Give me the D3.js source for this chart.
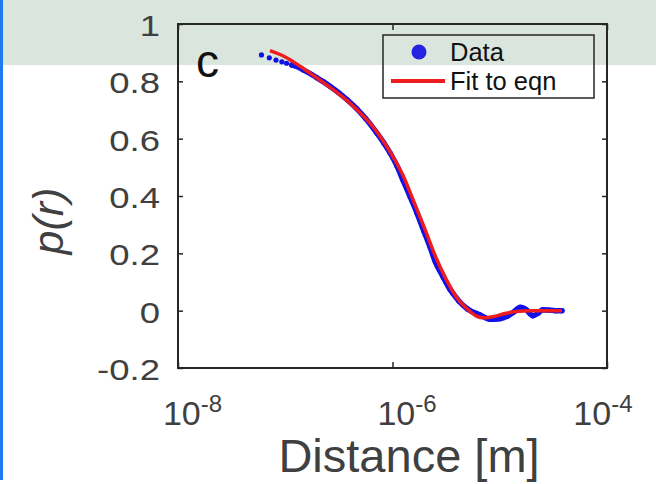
<!DOCTYPE html>
<html>
<head>
<meta charset="utf-8">
<script src="https://cdn.jsdelivr.net/npm/d3@7"></script>
<style>
body{margin:0;background:#fff;overflow:hidden;}
svg text{font-family:"Liberation Sans",Arial,Helvetica,sans-serif;}
</style>
</head>
<body>
<div id="plot"></div>
<script>

/* ######## data ######## */

// measured correlation p(r) vs distance r [m]
var data_r = [6.0e-8, 7.1e-8, 8.2e-8, 9.3e-8, 1.03e-7, 1.15e-7, 1.26e-7, 1.47e-7, 1.78e-7, 1.96e-7,
              2.24e-7, 2.61e-7, 3.16e-7, 3.8e-7, 4.63e-7, 5.62e-7, 7.13e-7, 8.3e-7, 9.5e-7, 1.1e-6,
              1.25e-6, 1.45e-6, 1.69e-6, 1.95e-6, 2.24e-6, 2.51e-6, 2.96e-6, 3.44e-6, 3.66e-6, 4.17e-6,
              5.0e-6, 6.55e-6, 8.1e-6, 1.0e-5, 1.17e-5, 1.35e-5, 1.55e-5, 1.74e-5, 2.04e-5, 2.29e-5,
              2.51e-5, 2.82e-5, 3.31e-5, 3.8e-5];
var data_p = [0.892, 0.882, 0.874, 0.868, 0.863, 0.857, 0.853, 0.84, 0.823, 0.813,
              0.80, 0.783, 0.76, 0.735, 0.705, 0.67, 0.62, 0.585, 0.55, 0.505,
              0.456, 0.40, 0.341, 0.28, 0.222, 0.17, 0.118, 0.074, 0.06, 0.033,
              0.006, -0.015, -0.03, -0.028, -0.02, -0.005, 0.012, 0.005, -0.018, -0.008,
              0.003, 0.002, 0, 0];

// fitted curve
var fit_r = [7.2e-8, 1.0e-7, 1.41e-7, 2.0e-7, 2.82e-7, 3.98e-7, 5.0e-7, 6.31e-7, 7.94e-7, 1.0e-6,
             1.26e-6, 1.58e-6, 2.0e-6, 2.51e-6, 3.16e-6, 3.98e-6, 5.0e-6, 6.0e-6, 7.1e-6, 8.9e-6,
             1.12e-5, 1.41e-5, 2.0e-5, 3.8e-5];
var fit_p = [0.907, 0.885, 0.85, 0.81, 0.77, 0.725, 0.69, 0.65, 0.60, 0.54,
             0.47, 0.38, 0.285, 0.19, 0.11, 0.045, 0.005, -0.018, -0.025, -0.02,
             -0.01, -0.003, 0, 0];

var x_ticks = [1e-8, 1e-6, 1e-4];
var x_tick_exp = ["-8", "-6", "-4"];
var y_ticks = [-0.2, 0, 0.2, 0.4, 0.6, 0.8, 1];
var y_tick_labels = ["-0.2", "0", "0.2", "0.4", "0.6", "0.8", "1"];
var legend_labels = ["Data", "Fit to eqn"];


/* ######## drawing ######## */

var W = 656, H = 484;
var box = {left: 178, right: 607, top: 24, bottom: 368};
var stretch = 1.26;   // y tick labels in the figure are wider than plain Arial

var svg = d3.select('#plot').append('svg').attr('width', W).attr('height', H);

// band + bar of the slide behind the figure
svg.append('rect').attr('x', 3).attr('y', 0).attr('width', W - 3).attr('height', 65).attr('fill', '#dae5dd');
svg.append('rect').attr('x', 0).attr('y', 0).attr('width', 3).attr('height', 480).attr('fill', '#1f7bef');

var x = d3.scaleLog().domain([1e-8, 1e-4]).range([box.left, box.right]);
var y = d3.scaleLinear().domain([-0.2, 1]).range([box.bottom, box.top]);

// left axis (ticks pointing in, like matlab)
var gy = svg.append('g').attr('transform', 'translate(' + box.left + ',0)')
    .call(d3.axisLeft(y).tickValues(y_ticks).tickSizeInner(-5).tickSizeOuter(0).tickPadding(18)
        .tickFormat(function(d, i){ return y_tick_labels[i]; }));
gy.select('.domain').remove();
gy.selectAll('.tick line').attr('stroke', '#262626').attr('stroke-width', 1.5);
gy.selectAll('.tick text')
    .attr('font-size', 29).attr('fill', '#404040').attr('font-family', null)
    .attr('x', -18 / stretch).attr('dy', '0.4em')
    .attr('transform', 'scale(' + stretch + ',1)');

// right axis, ticks only
var gy2 = svg.append('g').attr('transform', 'translate(' + box.right + ',0)')
    .call(d3.axisRight(y).tickValues(y_ticks).tickSizeInner(-5).tickSizeOuter(0).tickFormat(''));
gy2.select('.domain').remove();
gy2.selectAll('.tick line').attr('stroke', '#262626').attr('stroke-width', 1.5);

// bottom axis with 10^n labels
var gx = svg.append('g').attr('transform', 'translate(0,' + box.bottom + ')')
    .call(d3.axisBottom(x).tickValues(x_ticks).tickSizeInner(-6).tickSizeOuter(0).tickPadding(33)
        .tickFormat(function(){ return '10'; }));
gx.select('.domain').remove();
gx.selectAll('.tick line').attr('stroke', '#262626').attr('stroke-width', 1.5);
gx.selectAll('.tick text').each(function(d, i){
    var t = d3.select(this);
    t.attr('font-size', 34).attr('fill', '#404040').attr('font-family', null);
    t.append('tspan').attr('dy', '-0.55em').attr('font-size', 24).text(x_tick_exp[i]);
    // shift right of the tick, but keep the last one inside the picture
    var bb = this.getBBox();
    var dx = 14;
    var right = x(d) + bb.x + bb.width + dx;
    if (right > 632) dx -= right - 632;
    t.attr('x', dx);
});

var gx2 = svg.append('g').attr('transform', 'translate(0,' + box.top + ')')
    .call(d3.axisTop(x).tickValues(x_ticks).tickSizeInner(-6).tickSizeOuter(0).tickFormat(''));
gx2.select('.domain').remove();
gx2.selectAll('.tick line').attr('stroke', '#262626').attr('stroke-width', 1.5);

// box
svg.append('rect')
    .attr('x', box.left).attr('y', box.top)
    .attr('width', box.right - box.left).attr('height', box.bottom - box.top)
    .attr('fill', 'none').attr('stroke', '#262626').attr('stroke-width', 2);

// axis labels
svg.append('text').attr('x', 409).attr('y', 472).attr('text-anchor', 'middle')
    .attr('font-size', 47).attr('fill', '#404040').text('Distance [m]');
svg.append('text').attr('transform', 'translate(63,221) rotate(-90)').attr('text-anchor', 'middle')
    .attr('font-size', 43).attr('font-style', 'italic').attr('fill', '#404040').text('p(r)');

// panel letter
svg.append('text').attr('x', 196).attr('y', 77).attr('font-size', 46).attr('fill', '#111').text('c');

/* ######## curves ######## */

var pts = data_r.map(function(r, i){ return [r, data_p[i]]; });
var fit = fit_r.map(function(r, i){ return [r, fit_p[i]]; });

var line = d3.line()
    .x(function(d){ return x(d[0]); })
    .y(function(d){ return y(d[1]); })
    .curve(d3.curveMonotoneX);

// past ~1.2e-7 the data dots sit on top of each other -> thick band
svg.append('path').datum(pts.slice(5))
    .attr('d', line).attr('fill', 'none').attr('stroke', '#1010e8')
    .attr('stroke-width', 5.5).attr('stroke-linejoin', 'round').attr('stroke-linecap', 'round');

svg.append('g').selectAll('circle').data(pts).enter().append('circle')
    .attr('cx', function(d){ return x(d[0]); })
    .attr('cy', function(d){ return y(d[1]); })
    .attr('r', 2.6).attr('fill', '#1010e8');

svg.append('path').datum(fit)
    .attr('d', line).attr('fill', 'none').attr('stroke', '#ee1c1c')
    .attr('stroke-width', 3.5).attr('stroke-linejoin', 'round');

/* ######## legend ######## */

var leg = svg.append('g');
leg.append('rect').attr('x', 383).attr('y', 35).attr('width', 211).attr('height', 63)
    .attr('fill', 'none').attr('stroke', '#262626').attr('stroke-width', 1.5);
leg.append('circle').attr('cx', 419).attr('cy', 52).attr('r', 7.5).attr('fill', '#2323e0');
leg.append('line').attr('x1', 391).attr('x2', 445).attr('y1', 81).attr('y2', 81)
    .attr('stroke', '#ee1c1c').attr('stroke-width', 4);
leg.selectAll('text.lab').data(legend_labels).enter().append('text').attr('class', 'lab')
    .attr('x', 450).attr('y', function(d, i){ return 52 + i * 29; })
    .attr('dy', '0.35em').attr('font-size', 25.5).attr('fill', '#111').text(function(d){ return d; });

</script>
</body>
</html>
